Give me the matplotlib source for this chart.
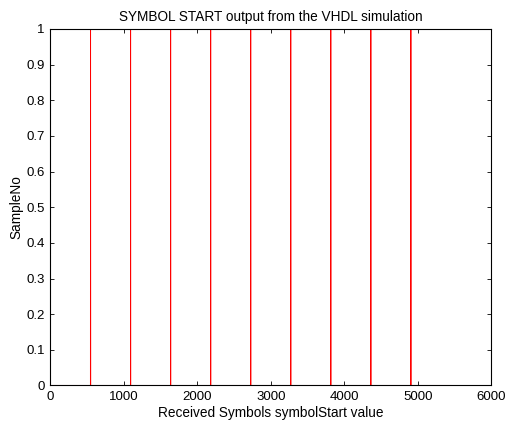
import numpy as np
import matplotlib
matplotlib.use("Agg")
import matplotlib.pyplot as plt

# ============================================================
# Data
# ============================================================
N_SAMPLES = 5450  # length of the symbolStart trace
SPIKES = [545, 1090, 1635, 2180, 2725, 3270, 3815, 4360, 4905]  # symbolStart pulses
X_TICKS = [0, 1000, 2000, 3000, 4000, 5000, 6000]
Y_TICKS = [0, 0.1, 0.2, 0.3, 0.4, 0.5, 0.6, 0.7, 0.8, 0.9, 1]
Y_TICK_LABELS = ["0", "0.1", "0.2", "0.3", "0.4", "0.5", "0.6", "0.7", "0.8", "0.9", "1"]

plt.rcParams["font.family"] = ["Liberation Sans", "DejaVu Sans"]
plt.rcParams["font.size"] = 9.5

# --- build the trace ---
x = np.arange(N_SAMPLES + 1)
y = np.zeros(N_SAMPLES + 1)
y[SPIKES] = 1

fig = plt.figure(figsize=(5.07, 4.25), dpi=100)
ax = fig.add_axes([0.0996, 0.093, 0.8694, 0.839])

ax.plot(x, y, color="red", linewidth=0.7)

ax.set_xlim(0, 6000)
ax.set_ylim(0, 1)
ax.set_xticks(X_TICKS)
ax.set_yticks(Y_TICKS)
ax.set_yticklabels(Y_TICK_LABELS)
ax.tick_params(direction="in", top=True, right=True, length=3, width=0.6, pad=4)
for s in ax.spines.values():
    s.set_linewidth(0.8)

ax.set_xlabel("Received Symbols symbolStart value", fontsize=9.8, labelpad=2)
ax.set_ylabel("SampleNo", fontsize=9.8, labelpad=2)
ax.set_title("SYMBOL START output from the VHDL simulation", fontsize=9.8, pad=6)

fig.savefig("out.png", dpi=100)
